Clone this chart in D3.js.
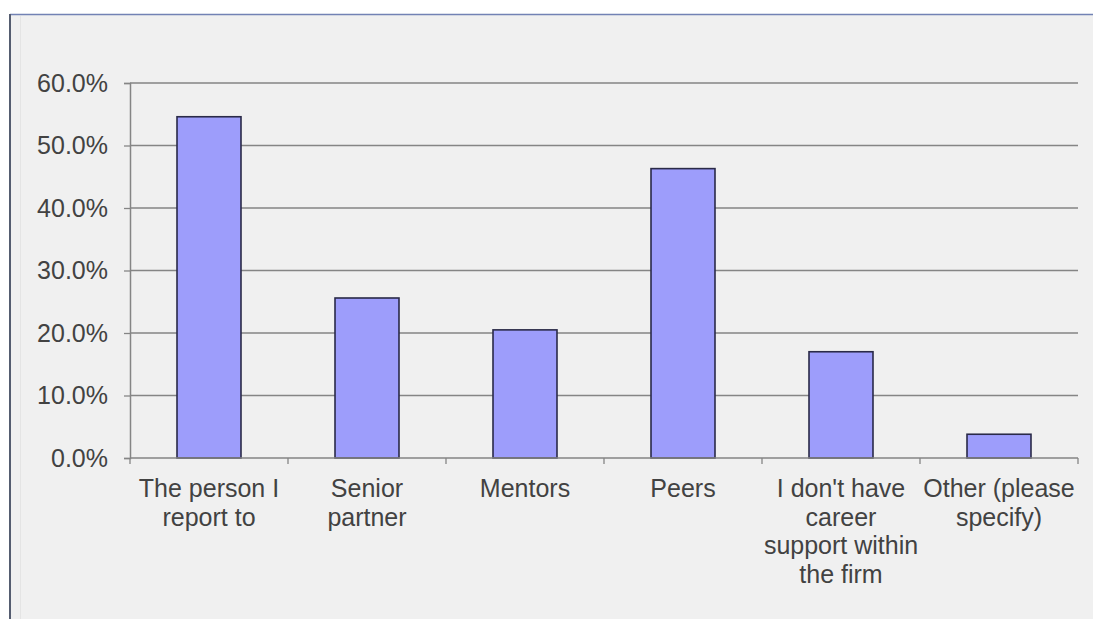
<!DOCTYPE html>
<html>
<head>
<meta charset="utf-8">
<script src="https://cdn.jsdelivr.net/npm/d3@7"></script>
<style>
  html, body { margin: 0; padding: 0; background: #ffffff; }
  svg { display: block; }
</style>
</head>
<body>
<svg id="chart" width="1093" height="619"></svg>
<script>
// Sources of career support (share of respondents)
const categories = [
  ["The person I", "report to"],
  ["Senior", "partner"],
  ["Mentors"],
  ["Peers"],
  ["I don't have", "career", "support within", "the firm"],
  ["Other (please", "specify)"]
];
const values = [0.546, 0.256, 0.205, 0.463, 0.170, 0.038];
const yTicks = [0, 0.1, 0.2, 0.3, 0.4, 0.5, 0.6];

const W = 1093, H = 619;
const margin = { left: 130, right: 15, top: 83, bottom: 161 };
const svg = d3.select("#chart");

// panel background with top and left frame lines
svg.append("rect").attr("x", 10).attr("y", 14).attr("width", W - 10).attr("height", H - 14)
  .attr("fill", "#f0f0f0");
svg.append("line").attr("x1", 10).attr("x2", W).attr("y1", 14.5).attr("y2", 14.5)
  .attr("stroke", "#7282b4").attr("stroke-width", 1.5);
svg.append("line").attr("x1", 10).attr("x2", 10).attr("y1", 14).attr("y2", H)
  .attr("stroke", "#555d70").attr("stroke-width", 2);
svg.append("line").attr("x1", 20.5).attr("x2", 20.5).attr("y1", 16).attr("y2", H)
  .attr("stroke", "#e4e4e4").attr("stroke-width", 1);

const x0 = margin.left, x1 = W - margin.right;
const y0 = H - margin.bottom, y1 = margin.top;

const x = d3.scaleBand().domain(d3.range(categories.length)).range([x0, x1])
  .paddingInner(0.595).paddingOuter(0.2975);
const xb = d3.scaleBand().domain(d3.range(categories.length)).range([x0, x1]);
const y = d3.scaleLinear().domain([0, 0.6]).range([y0, y1]);

const font = "'Liberation Sans', Arial, sans-serif";
const fontSize = 25;
const textColor = "#424242";
const gridColor = "#858585";

// horizontal gridlines
svg.append("g").selectAll("line").data(yTicks.filter(d => d > 0)).join("line")
  .attr("x1", x0).attr("x2", x1)
  .attr("y1", d => y(d)).attr("y2", d => y(d))
  .attr("stroke", gridColor).attr("stroke-width", 1.3);

// bars
svg.append("g").selectAll("rect").data(values).join("rect")
  .attr("x", (d, i) => x(i))
  .attr("y", d => y(d))
  .attr("width", x.bandwidth())
  .attr("height", d => y0 - y(d))
  .attr("fill", "#9d9dfb")
  .attr("stroke", "#2a2a48")
  .attr("stroke-width", 1.6);

// y axis
const yAxis = d3.axisLeft(y).tickValues(yTicks).tickFormat(d3.format(".1%"))
  .tickSize(6).tickPadding(16);
const gy = svg.append("g").attr("transform", `translate(${x0},0)`).call(yAxis);
gy.select(".domain").attr("stroke", gridColor).attr("stroke-width", 1.5);
gy.selectAll(".tick line").attr("stroke", gridColor).attr("stroke-width", 1.3);
gy.selectAll(".tick text").attr("fill", textColor).attr("font-family", font).attr("font-size", fontSize);

// x axis baseline and category boundary ticks
svg.append("line").attr("x1", x0).attr("x2", x1).attr("y1", y0).attr("y2", y0)
  .attr("stroke", gridColor).attr("stroke-width", 1.5);
const bounds = d3.range(categories.length + 1).map(i => i < categories.length ? xb(i) : x1);
svg.append("g").selectAll("line").data(bounds).join("line")
  .attr("x1", d => d).attr("x2", d => d).attr("y1", y0).attr("y2", y0 + 6)
  .attr("stroke", gridColor).attr("stroke-width", 1.3);

// category labels
const lab = svg.append("g").selectAll("text").data(categories).join("text")
  .attr("text-anchor", "middle")
  .attr("font-family", font).attr("font-size", fontSize).attr("fill", textColor)
  .attr("x", (d, i) => xb(i) + xb.bandwidth() / 2)
  .attr("y", y0 + 39);
lab.selectAll("tspan").data(d => d).join("tspan")
  .attr("x", function() { return this.parentNode.getAttribute("x"); })
  .attr("dy", (d, i) => i === 0 ? 0 : 28.5)
  .text(d => d);
</script>
</body>
</html>
